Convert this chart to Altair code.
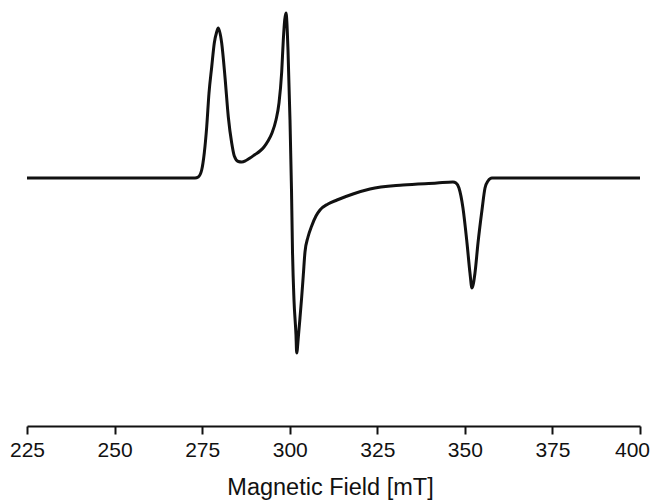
import altair as alt
import pandas as pd

# Magnetic field (mT) and EPR signal intensity (arbitrary units)
field = [225.00, 272.96, 273.90, 274.87, 275.61, 276.30, 276.96, 277.73, 278.47, 279.15,
         279.61, 280.58, 281.52, 282.47, 283.44, 284.18, 285.32, 286.30, 287.50, 288.66,
         290.09, 291.51, 292.66, 293.80, 294.94, 296.08, 296.94, 297.71, 298.17, 298.57,
         298.94, 299.51, 300.08, 300.51, 300.79, 301.22, 301.79, 301.99, 302.51, 302.93,
         303.42, 303.88, 304.36, 305.22, 306.27, 307.50, 308.64, 310.93, 313.50, 318.06,
         322.92, 332.34, 342.04, 346.61, 347.47, 348.32, 349.46, 350.61, 351.46, 352.03,
         352.89, 353.75, 354.89, 355.75, 356.60, 357.74, 400.00]
signal = [0.00, 0.00, 0.01, 0.08, 0.25, 0.51, 0.85, 1.11, 1.35, 1.46,
          1.50, 1.35, 1.01, 0.61, 0.35, 0.22, 0.165, 0.16, 0.175, 0.20,
          0.235, 0.27, 0.31, 0.37, 0.45, 0.58, 0.75, 1.06, 1.38, 1.58,
          1.65, 1.28, 0.58, -0.12, -0.72, -1.22, -1.57, -1.75, -1.57, -1.40,
          -1.19, -0.97, -0.74, -0.59, -0.48, -0.38, -0.32, -0.26, -0.22, -0.16,
          -0.11, -0.07, -0.05, -0.04, -0.05, -0.10, -0.30, -0.65, -0.95, -1.10,
          -0.95, -0.65, -0.32, -0.10, -0.03, 0.00, 0.00]
x_ticks = [225, 250, 275, 300, 325, 350, 375, 400]

df = pd.DataFrame({"field": field, "signal": signal})

chart = (
    alt.Chart(df)
    .mark_line(color="#111111", strokeWidth=3, interpolate="monotone")
    .encode(
        x=alt.X(
            "field:Q",
            scale=alt.Scale(domain=[225, 400], nice=False, zero=False),
            axis=alt.Axis(
                values=x_ticks,
                title="Magnetic Field [mT]",
                grid=False,
                domainColor="#111111",
                domainWidth=2,
                tickColor="#111111",
                tickWidth=2,
                tickSize=8,
                labelFont="Liberation Sans",
                labelFontSize=21,
                labelColor="#111111",
                labelPadding=5,
                labelFlush=False,
                labelOffset=alt.expr("datum.value == 400 ? -8 : 0"),
                titleFont="Liberation Sans",
                titleFontSize=23.5,
                titleFontWeight="normal",
                titleColor="#111111",
                titlePadding=15,
                titleX=303,
            ),
        ),
        y=alt.Y(
            "signal:Q",
            scale=alt.Scale(domain=[-2.48, 1.70], nice=False, zero=False),
            axis=None,
        ),
    )
    .properties(
        width=613,
        height=418,
        background="white",
        autosize=alt.AutoSizeParams(type="none"),
        padding={"left": 19, "top": 0, "right": 11, "bottom": 76},
    )
    .configure_view(stroke="transparent", strokeWidth=0)
)

chart.save("out.html", embed_options={"renderer": "svg", "actions": False})
